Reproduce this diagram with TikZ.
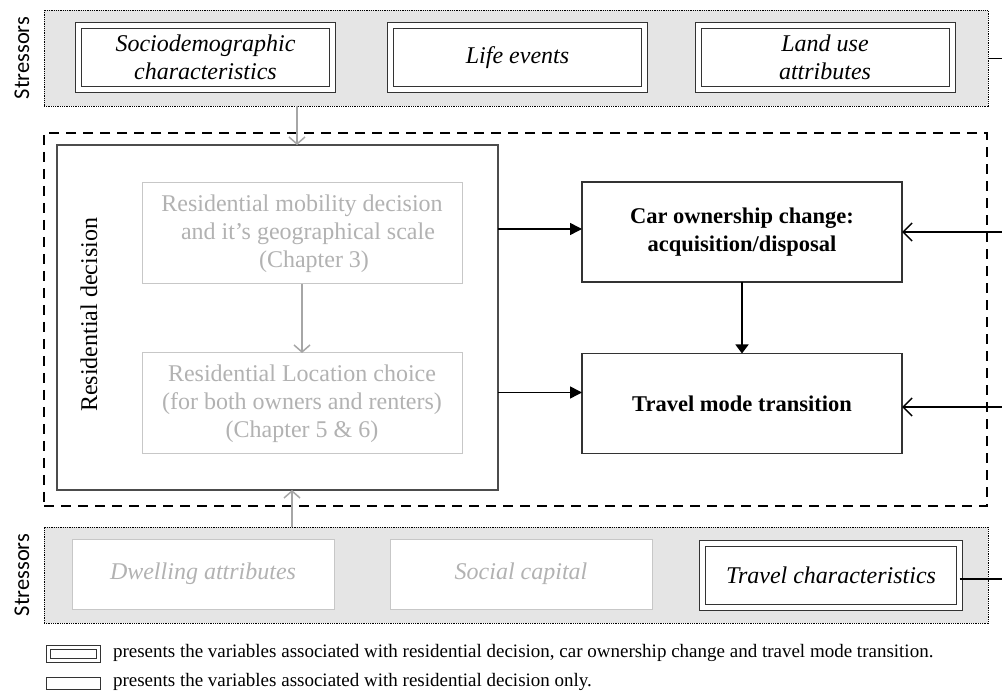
\documentclass[tikz,border=0pt]{standalone}
\usepackage{fontspec}
\setmainfont{Liberation Serif}
\newfontfamily\stressfont{Carlito}
\usetikzlibrary{arrows.meta}

\begin{document}
\begin{tikzpicture}[x=1pt, y=-1pt]
\tikzset{ >=latex, inner sep=0pt, outer sep=0pt,
  txt/.style={font=\fontsize{24}{28}\selectfont, align=center},
  band/.style={draw, fill=black!10, line width=0.8pt, dash pattern=on 1pt off 0.8pt,
    minimum width=944pt, minimum height=96pt},
  dblbox/.style={txt, draw=black!80, fill=white, line width=1pt, double, double distance=5pt,
    minimum width=254pt, minimum height=64pt, font=\fontsize{24}{28}\selectfont\itshape},
  greybox/.style={txt, draw=black!22, fill=white, line width=1pt, text=black!30,
    minimum width=262pt, minimum height=70pt},
  blackbox/.style={txt, draw=black!80, line width=1.2pt, minimum width=320pt,
    minimum height=100pt, font=\fontsize{22.5}{28}\selectfont\bfseries},
  sidelabel/.style={rotate=90, font=\fontsize{24}{28}\selectfont},
  garrow/.style={draw=black!35, line width=1.5pt, -{Straight Barb[length=7pt,width=16pt]}},
  barrow/.style={line width=1.5pt, -{Triangle[length=12pt,width=12pt]}},
  oarrow/.style={line width=1.5pt, {Straight Barb[length=9pt,width=18pt]}-},
}

\useasboundingbox (0,0) rectangle (1002,692);

%%% Stressors top
\node [band] (topband) at (516,58.5) {};
\node [sidelabel, font=\fontsize{22.5}{28}\stressfont] (stresstop) at (22,58) {Stressors};
\node [dblbox] (socio) at (205.5,57.5) {Sociodemographic\\characteristics};
\node [dblbox] (life)  at (517.5,57.5) {Life events};
\node [dblbox] (land)  at (825,57.5) {Land use\\attributes};

%%% Decision frame
\node [draw, line width=2pt, dash pattern=on 10pt off 7pt, minimum width=943pt, minimum height=373pt] (frame) at (515.5,319.5) {};

% residential decision
\node [draw=black!70, fill=white, line width=1.2pt, minimum width=441pt, minimum height=345pt] (resbox) at (277.5,317.5) {};
\node [sidelabel] (reslabel) at (89,315) {Residential decision};
\node [greybox, minimum width=320pt, minimum height=101pt] (mobility) at (302,233.5)
  {Residential mobility decision\\ \ \ and it's geographical scale\\ \ \ \ \ (Chapter 3)};
\node [greybox, minimum width=320pt, minimum height=101pt] (location) at (302,403.5)
  {Residential Location choice\\(for both owners and renters)\\(Chapter 5 \& 6)};

% car and travel mode
\node [blackbox] (car)    at (742,232)   {Car ownership change:\\acquisition/disposal};
\node [blackbox] (travel) at (742,403.5) {Travel mode transition};

%%% Stressors bottom
\node [band] (botband) at (516,575) {};
\node [sidelabel, font=\fontsize{22.5}{28}\stressfont] (stressbot) at (22,575) {Stressors};
\node [greybox, font=\fontsize{24}{28}\selectfont\itshape] (dwelling) at (203,574) {Dwelling attributes};
\node [greybox, font=\fontsize{24}{28}\selectfont\itshape] (social)   at (521,574) {Social capital};
\node [dblbox, minimum width=257pt] (travelchar) at (831,575.5) {Travel characteristics};

%%% Legend
\node [draw=black!80, fill=white, line width=0.8pt, double, double distance=2.5pt,
  minimum width=50pt, minimum height=13pt] (keydbl) at (73.5,654) {};
\node [draw=black!80, line width=0.8pt, minimum width=54pt, minimum height=12pt] (keysgl) at (73,683) {};
\node [anchor=west, font=\fontsize{19}{22}\selectfont] (keydbltxt) at (113,653)
  {presents the variables associated with residential decision, car ownership change and travel mode transition.};
\node [anchor=west, font=\fontsize{19}{22}\selectfont] (keysgltxt) at (113,682)
  {presents the variables associated with residential decision only.};

%%% Lines
\coordinate (rim) at (1002,0);

% stressors -> residential decision
\draw [garrow] ([xshift=-5pt]mobility.north |- topband.south) -- ([xshift=-5pt]mobility.north |- resbox.north);
\draw [garrow] ([xshift=-10pt]location.south |- botband.north) -- ([xshift=-10pt]location.south |- resbox.south);
\draw [garrow] (mobility) -- (location);

% residential decision -> car, travel
\draw [barrow] ([yshift=3pt]car.west -| resbox.east) -- ([yshift=3pt]car.west);
\draw [barrow] ([yshift=11pt]travel.west -| resbox.east) -- ([yshift=11pt]travel.west);
\draw [barrow, -{Triangle[length=9pt,width=13pt]}] (car) -- (travel);

% land use, travel characteristics -> car, travel
\draw [line width=1.5pt] (topband.east) -- (topband.east -| rim);
\draw [line width=1.5pt] ([yshift=-3.5pt]travelchar.east) -- ([yshift=-3.5pt]travelchar.east -| rim);
\draw [oarrow] (car.east) -- (car.east -| rim);
\draw [oarrow] ([yshift=-3.5pt]travel.east) -- ([yshift=-3.5pt]travel.east -| rim);

\end{tikzpicture}
\end{document}
